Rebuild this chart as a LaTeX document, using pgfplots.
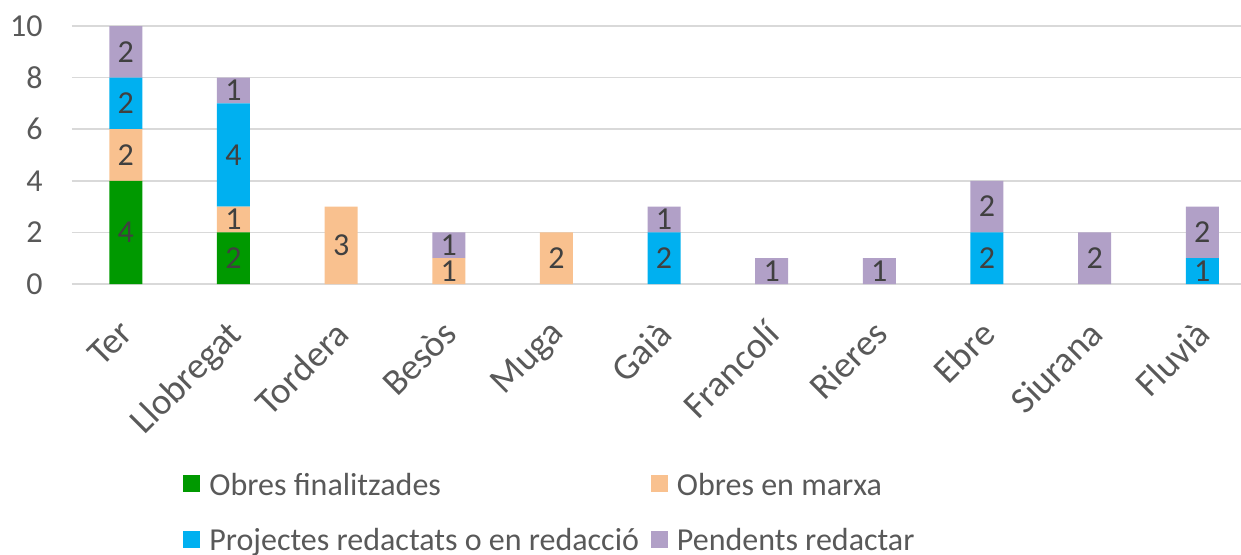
\documentclass[border=0pt]{standalone}
\usepackage{pgfplots}
\usepackage{pgfplotstable}
\pgfplotsset{compat=1.18}
\usepackage{fontspec}
\setmainfont{Carlito}
\definecolor{cgreen}{RGB}{0,153,0}
\definecolor{corange}{RGB}{249,193,143}
\definecolor{cblue}{RGB}{0,176,240}
\definecolor{cpurple}{RGB}{177,160,199}
\definecolor{ctxt}{RGB}{89,89,89}
\definecolor{clbl}{RGB}{64,64,64}
\definecolor{cgrid}{RGB}{217,217,217}
\pgfplotstableread{
x fin marxa proj pend
0 4 2 2 2
1 2 1 4 1
2 0 3 0 0
3 0 1 0 1
4 0 2 0 0
5 0 0 2 1
6 0 0 0 1
7 0 0 0 1
8 0 0 2 2
9 0 0 0 2
10 0 0 1 2
}\datatable
\pgfplotstableread{
x y lab
0 2 4
0 5 2
0 7 2
0 9 2
1 1 2
1 2.5 1
1 5 4
1 7.5 1
2 1.5 3
3 0.5 1
3 1.5 1
4 1 2
5 1 2
5 2.5 1
6 0.5 1
7 0.5 1
8 1 2
8 3 2
9 1 2
10 0.5 1
10 2 2
}\labtable
\begin{document}
\begin{tikzpicture}
\path[use as bounding box] (-36pt,-135pt) rectangle (584.5pt,142pt);
\pgfplotsset{
  common/.style={
    scale only axis, width=584.5pt, height=129pt,
    at={(0pt,0pt)}, anchor=south west,
    xmin=-0.5, xmax=10.36, ymin=0, ymax=10,
  }
}
\begin{axis}[common,
  ybar stacked, bar width=16.5pt,
  axis line style={draw=none},
  major tick length=0pt,
  ytick={0,2,4,6,8,10},
  ymajorgrids, grid style={cgrid, line width=0.75pt},
  xtick={0,...,10},
  xticklabels={Ter,Llobregat,Tordera,Besòs,Muga,Gaià,Francolí,Rieres,Ebre,Siurana,Fluvià},
  yticklabel style={font=\fontsize{16}{19}\selectfont, text=ctxt},
  xticklabel style={font=\fontsize{18.5}{22}\selectfont, text=ctxt},
  /pgf/number format/assume math mode=true,
  yticklabel style={inner sep=0pt, anchor=east, xshift=-14.5pt},
  xticklabel style={inner sep=0pt, xshift=-4pt, yshift=-17pt, rotate=45, anchor=north east},
  legend columns=2,
  legend style={draw=none, fill=none, inner sep=0pt, at={(0.09495,-0.8900)}, anchor=west,
     font=\fontsize{16}{19}\selectfont, text=ctxt,
     nodes={inner sep=0pt},
     /tikz/every odd column/.append style={column sep=4.5pt},
     /tikz/every even column/.append style={column sep=6pt},
     row sep=15pt},
  legend cell align=left,
  legend image code/.code={\fill[#1,draw=none] (0pt,-3.2pt) rectangle (8.5pt,5.3pt);},
  clip=false,
]
\addplot[fill=cgreen, draw=none] table[x=x,y=fin] {\datatable};
\addplot[fill=corange, draw=none] table[x=x,y=marxa] {\datatable};
\addplot[fill=cblue, draw=none] table[x=x,y=proj] {\datatable};
\addplot[fill=cpurple, draw=none] table[x=x,y=pend] {\datatable};
\legend{Obres finalitzades,Obres en marxa,Projectes redactats o en redacció,Pendents redactar}
\end{axis}
\begin{axis}[common, hide axis]
\addplot[only marks, mark=none, nodes near coords, point meta=explicit symbolic,
  every node near coord/.append style={anchor=center, font=\fontsize{16}{19}\selectfont, text=clbl, inner sep=0pt}]
  table[x=x,y=y,meta=lab] {\labtable};
\end{axis}
\end{tikzpicture}
\end{document}
